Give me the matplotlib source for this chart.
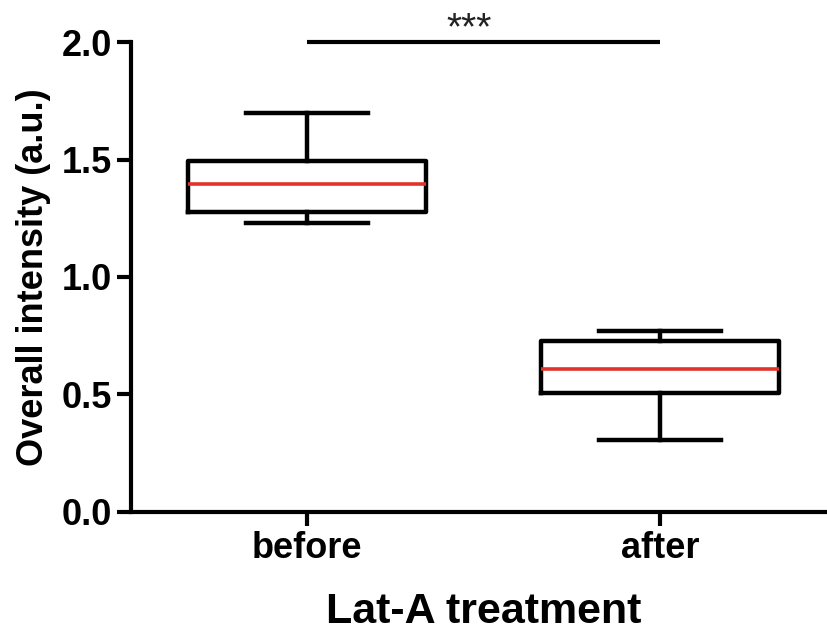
import matplotlib.pyplot as plt

# box statistics
groups = ["before", "after"]
whislo = [1.23, 0.306]
q1 = [1.277, 0.506]
med = [1.396, 0.609]
q3 = [1.494, 0.728]
whishi = [1.698, 0.770]
yticks = [0.0, 0.5, 1.0, 1.5, 2.0]
signif = "***"

plt.rcParams['font.family'] = ['Liberation Sans', 'DejaVu Sans']

stats = []
for i, name in enumerate(groups):
    stats.append({"label": name, "whislo": whislo[i], "q1": q1[i], "med": med[i],
                  "q3": q3[i], "whishi": whishi[i], "fliers": []})

fig = plt.figure(figsize=(8.27, 6.32), dpi=100)
ax = fig.add_axes([0.1584, 0.19, 0.853, 0.7435])

ax.bxp(stats, positions=[1, 2], widths=0.674, capwidths=0.346, showfliers=False,
       boxprops=dict(color='black', linewidth=3.2),
       whiskerprops=dict(color='black', linewidth=3.2),
       capprops=dict(color='black', linewidth=3.2),
       medianprops=dict(color='#e3342b', linewidth=2.6))

ax.set_xlim(0.5, 2.5)
ax.set_ylim(0, 2.0)
ax.set_yticks(yticks)
ax.set_yticklabels([f"{v:.1f}" for v in yticks])

for s in ['top', 'right']:
    ax.spines[s].set_visible(False)
for s in ['left', 'bottom']:
    ax.spines[s].set_linewidth(3)

ax.tick_params(axis='both', width=3, length=10, labelsize=26)
for lab in ax.get_xticklabels() + ax.get_yticklabels():
    lab.set_fontweight('bold')

ax.set_ylabel("Overall intensity (a.u.)", fontsize=26, fontweight='bold', labelpad=8)
ax.set_xlabel("Lat-A treatment", fontsize=31, fontweight='bold', labelpad=19)

# significance bar
ax.plot([1, 2], [2.0, 2.0], color='black', linewidth=3, clip_on=False, solid_capstyle='butt')
ax.text(1.46, 2.055, signif, ha='center', va='center', fontsize=28, color='#222222')

fig.savefig("out.png", dpi=100)
